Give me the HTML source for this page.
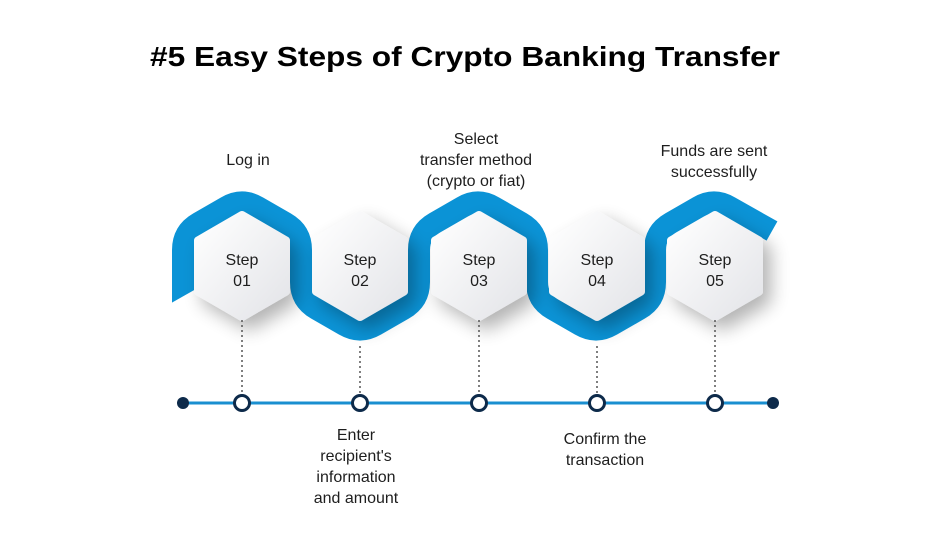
<!DOCTYPE html>
<html><head><meta charset="utf-8"><style>
html,body{margin:0;padding:0;background:#fff;width:931px;height:551px;overflow:hidden}
svg{display:block}
text{font-family:"Liberation Sans",sans-serif;fill:#1e1e1e}
</style></head><body>
<svg width="931" height="551" viewBox="0 0 931 551" xmlns="http://www.w3.org/2000/svg">
<defs>
<linearGradient id="hg" x1="0" y1="0" x2="1" y2="1">
<stop offset="0" stop-color="#ffffff"/><stop offset="1" stop-color="#e3e4e8"/>
</linearGradient>
<filter id="sh" x="-50%" y="-50%" width="200%" height="200%">
<feGaussianBlur in="SourceAlpha" stdDeviation="9"/><feOffset dx="8" dy="9"/>
<feComponentTransfer><feFuncA type="linear" slope="0.3"/></feComponentTransfer>
<feMerge><feMergeNode/><feMergeNode in="SourceGraphic"/></feMerge>
</filter>
<g id="hex"><polygon points="0,-51 44,-25.5 44,25.5 0,51 -44,25.5 -44,-25.5" fill="url(#hg)" stroke="url(#hg)" stroke-width="8" stroke-linejoin="round"/></g>
</defs>
<text x="465" y="66" text-anchor="middle" font-size="28" font-weight="bold" textLength="630" lengthAdjust="spacingAndGlyphs" style="fill:#000">#5 Easy Steps of Crypto Banking Transfer</text>

<path d="M183,306 L183,250 Q183,232 198.6,223 L226.4,207 Q242,198 257.6,207 L285.4,223 Q301,232 301,250 L301,282 Q301,300 316.6,309 L344.4,325 Q360,334 375.6,325 L403.4,309 Q419,300 419,282 L419,250 Q419,232 434.6,223 L462.4,207 Q478,198 493.6,207 L521.4,223 Q537,232 537,250 L537,282 Q537,300 552.6,309 L580.4,325 Q596,334 611.6,325 L639.4,309 Q655,300 655,282 L655,250 Q655,232 670.6,223 L698.4,207 Q714,198 729.6,207 L772,231" fill="none" stroke="#0b93d6" stroke-width="22" stroke-linejoin="round"/>
<polygon points="166,306 196,289 196,318 166,318" fill="#fff"/>

<g filter="url(#sh)">
<use href="#hex" x="242" y="266"/><use href="#hex" x="360" y="266"/><use href="#hex" x="479" y="266"/><use href="#hex" x="597" y="266"/><use href="#hex" x="715" y="266"/>
</g>
<g font-size="16" text-anchor="middle">
<text x="242" y="265">Step</text><text x="242" y="286">01</text>
<text x="360" y="265">Step</text><text x="360" y="286">02</text>
<text x="479" y="265">Step</text><text x="479" y="286">03</text>
<text x="597" y="265">Step</text><text x="597" y="286">04</text>
<text x="715" y="265">Step</text><text x="715" y="286">05</text>
</g>
<g stroke="#555" stroke-width="1.5" stroke-dasharray="2,3">
<line x1="242" y1="320" x2="242" y2="396"/><line x1="360" y1="346" x2="360" y2="396"/>
<line x1="479" y1="320" x2="479" y2="396"/><line x1="597" y1="346" x2="597" y2="396"/>
<line x1="715" y1="320" x2="715" y2="396"/>
</g>
<line x1="183" y1="403" x2="773" y2="403" stroke="#1a8fd0" stroke-width="3"/>
<circle cx="183" cy="403" r="6" fill="#0d2a4a"/><circle cx="773" cy="403" r="6" fill="#0d2a4a"/>
<g fill="#fff" stroke="#0d2a4a" stroke-width="3">
<circle cx="242" cy="403" r="7.5"/><circle cx="360" cy="403" r="7.5"/><circle cx="479" cy="403" r="7.5"/><circle cx="597" cy="403" r="7.5"/><circle cx="715" cy="403" r="7.5"/>
</g>
<g font-size="16" text-anchor="middle">
<text x="248" y="165">Log in</text>
<text x="476" y="144">Select</text><text x="476" y="165">transfer method</text><text x="476" y="186">(crypto or fiat)</text>
<text x="714" y="156">Funds are sent</text><text x="714" y="177">successfully</text>
<text x="356" y="440">Enter</text><text x="356" y="461">recipient's</text><text x="356" y="482">information</text><text x="356" y="503">and amount</text>
<text x="605" y="444">Confirm the</text><text x="605" y="465">transaction</text>
</g>
</svg>
</body></html>
